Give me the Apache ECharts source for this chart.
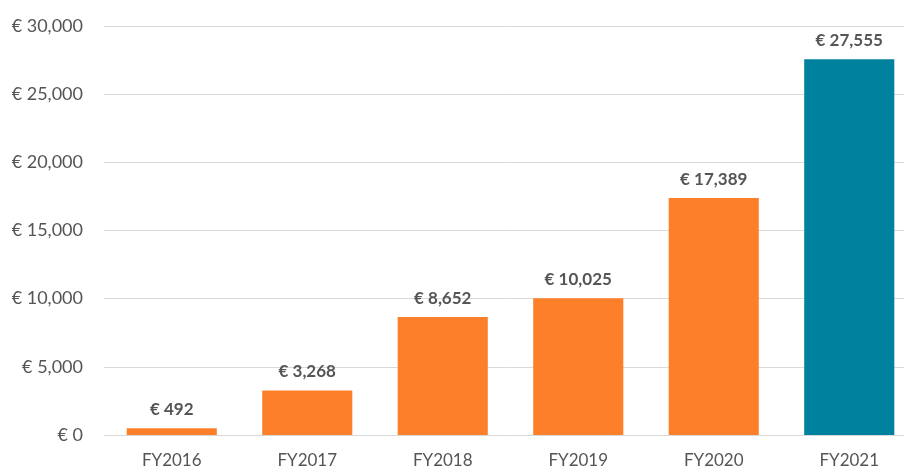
<!DOCTYPE html>
<html>
<head>
<meta charset="utf-8">
<script src="https://cdn.jsdelivr.net/npm/echarts@6/dist/echarts.min.js"></script>
<style>
  html, body { margin: 0; padding: 0; background: #fff; overflow: hidden; }
  /* the source picture is cropped on the right, so the canvas runs past the window */
  #chart { width: 917px; height: 469px; }
</style>
</head>
<body>
<div id="chart"></div>
<script>
  const categories = ['FY2016', 'FY2017', 'FY2018', 'FY2019', 'FY2020', 'FY2021']
  const values = [492, 3268, 8652, 10025, 17389, 27555]
  const yTicks = [0, 5000, 10000, 15000, 20000, 25000, 30000]

  const orange = '#FE7F29'
  const teal = '#00819E'
  const fmt = v => '€ ' + Number(v).toLocaleString('en-US')

  const myChart = echarts.init(document.getElementById('chart'))
  const option = {
    animation: false,
    grid: { left: 104, top: 26, right: 0, bottom: 34 },
    xAxis: {
      type: 'category',
      data: categories,
      axisLine: { lineStyle: { color: '#d9d9d9' } },
      axisTick: { show: false },
      axisLabel: { color: '#555', fontSize: 17, fontFamily: 'Lato', margin: 17 }
    },
    yAxis: {
      type: 'value',
      min: yTicks[0],
      max: yTicks[yTicks.length - 1],
      interval: 5000,
      splitLine: { lineStyle: { color: '#d9d9d9' } },
      axisLabel: { color: '#555', fontSize: 18, fontFamily: 'Lato', margin: 21, formatter: fmt }
    },
    series: [{
      type: 'bar',
      data: values.map((v, i) => ({
        value: v,
        itemStyle: { color: i === values.length - 1 ? teal : orange }
      })),
      barCategoryGap: '33.5%',
      label: {
        show: true,
        position: 'top',
        distance: 10,
        color: '#555',
        fontSize: 17,
        fontWeight: 'bold',
        fontFamily: 'Lato',
        formatter: p => fmt(p.value)
      }
    }]
  }
  myChart.setOption(option)
</script>
</body>
</html>
